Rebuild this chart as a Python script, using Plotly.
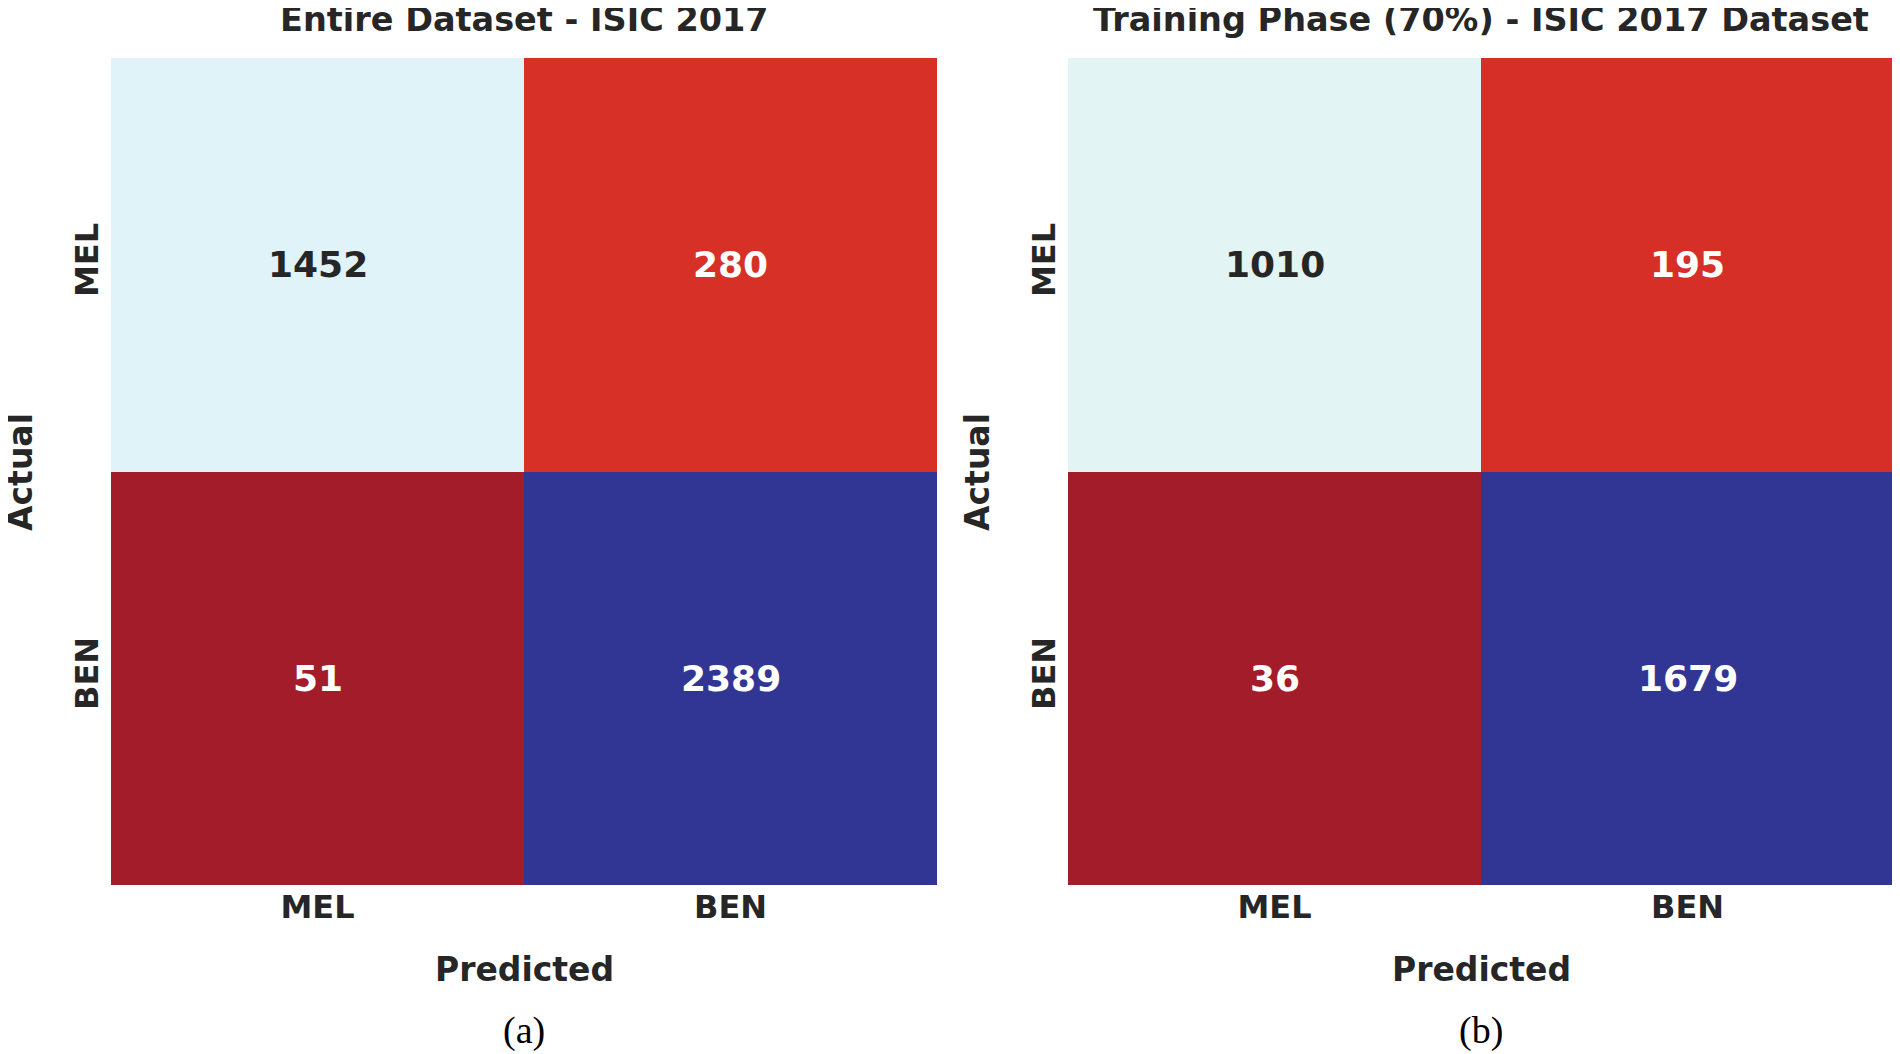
import plotly.graph_objects as go
import plotly.express as px
from plotly.colors import sample_colorscale, unlabel_rgb

# data
labels = ['MEL', 'BEN']
cm_full = [[1452, 280], [51, 2389]]
cm_train = [[1010, 195], [36, 1679]]
titles = ['Entire Dataset - ISIC 2017', 'Training Phase (70%) - ISIC 2017 Dataset']
captions = ['(a)', '(b)']

W, H = 1900, 1054
OFF = 8  # page body margin
rdylbu = list(px.colors.diverging.RdYlBu)
rdylbu[0] = 'rgb(163,28,42)'
scale = [[i / 10, c] for i, c in enumerate(rdylbu)]
dark = '#262626'
bold = dict(family='DejaVu Sans', weight='bold', color=dark)


def px_x(v):
    return (v - OFF) / W


def px_y(v):
    return 1 - (v - OFF) / H


# panel placement in pixels (left, right)
panels = [(111, 937), (1068, 1894)]
top_px, bot_px = 58, 885

fig = go.Figure()
annotations = []

for k, (cm, (x0, x1)) in enumerate(zip([cm_full, cm_train], panels)):
    xa = 'x' if k == 0 else 'x2'
    ya = 'y' if k == 0 else 'y2'
    fig.add_trace(go.Heatmap(z=cm, x=labels, y=labels, colorscale=scale,
                             showscale=False, xaxis=xa, yaxis=ya, hoverinfo='z'))
    zmin = min(min(r) for r in cm)
    zmax = max(max(r) for r in cm)
    for i, row in enumerate(cm):
        for j, v in enumerate(row):
            c = sample_colorscale(scale, [(v - zmin) / (zmax - zmin)])[0]
            r, g, b = unlabel_rgb(c)
            lum = 0.2126 * (r / 255) + 0.7152 * (g / 255) + 0.0722 * (b / 255)
            annotations.append(dict(x=labels[j], y=labels[i], xref=xa, yref=ya,
                                    text=str(v), showarrow=False,
                                    font=dict(family='DejaVu Sans', weight='bold', size=36,
                                              color=dark if lum > 0.45 else 'white')))
    xc = px_x((x0 + x1) / 2)
    common = dict(xref='paper', yref='paper', showarrow=False, xanchor='center', yanchor='middle')
    annotations.append(dict(common, x=xc, y=px_y(20), text=titles[k], font=dict(bold, size=33.5)))
    annotations.append(dict(common, x=xc, y=px_y(969), text='Predicted', font=dict(bold, size=33)))
    annotations.append(dict(common, x=px_x(x0 - 90), y=px_y(472), text='Actual', textangle=-90,
                            font=dict(bold, size=33)))
    annotations.append(dict(common, x=xc, y=px_y(1030), text=captions[k],
                            font=dict(family='Liberation Serif', size=38, color='black')))

    ax = dict(domain=[px_x(x0), px_x(x1)], showgrid=False, zeroline=False, showline=False,
              ticks='', tickfont=dict(bold, size=32), ticklabelstandoff=0)
    ay = dict(domain=[px_y(bot_px), px_y(top_px)], showgrid=False, zeroline=False,
              showline=False, ticks='', autorange='reversed', tickangle=-90,
              tickfont=dict(bold, size=32), ticklabelstandoff=6)
    if k == 0:
        fig.update_layout(xaxis=dict(ax, anchor='y'), yaxis=dict(ay, anchor='x'))
    else:
        fig.update_layout(xaxis2=dict(ax, anchor='y2'), yaxis2=dict(ay, anchor='x2'))

fig.update_layout(width=W, height=H, margin=dict(l=0, r=0, t=0, b=0),
                  plot_bgcolor='white', paper_bgcolor='white',
                  annotations=annotations, showlegend=False)

fig.write_html("out.html")
